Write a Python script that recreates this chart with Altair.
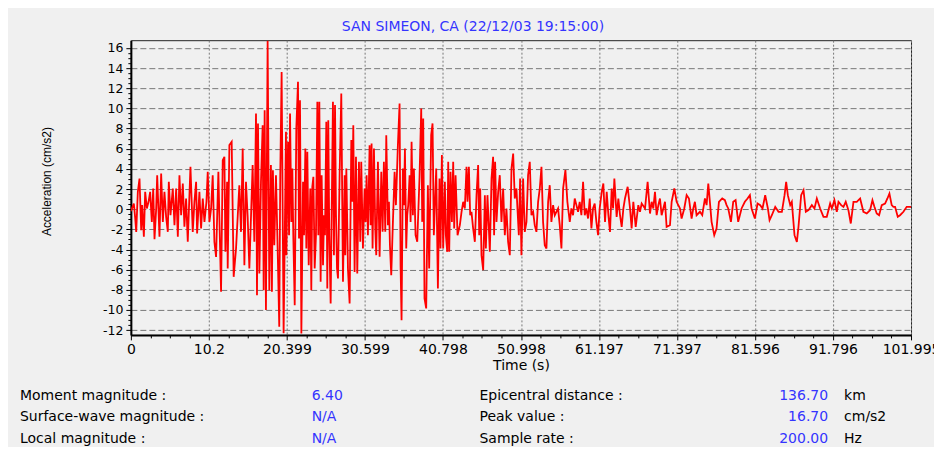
import altair as alt
import pandas as pd

# ---------------- data ----------------
seg1_t = [0.0, 0.39, 0.57, 0.70, 0.91, 1.13, 1.35, 1.48, 1.70, 1.87, 2.09, 2.31, 2.52, 2.74, 2.92, 3.09, 3.31, 3.44, 3.74, 3.96,
          4.18, 4.39, 4.61, 4.83, 4.96, 5.18, 5.48, 5.70, 5.92, 6.14, 6.35, 6.57, 6.79, 7.00, 7.22, 7.44, 7.79, 8.09, 8.31, 8.53,
          8.66, 8.96, 9.18, 9.40, 9.62, 9.88, 10.05, 10.27, 10.49, 10.70, 10.92, 11.14, 11.44, 11.79, 12.01, 12.23, 12.36, 12.58,
          12.66, 12.88, 13.18, 13.44, 13.75, 14.18, 14.40, 14.62, 14.84, 15.05, 15.27, 15.49, 15.92, 16.14, 16.36, 16.49, 16.62,
          16.80, 17.01, 17.23, 17.36, 17.49, 17.66, 17.88, 18.10, 18.31, 18.44, 18.57, 18.75, 18.97, 19.19, 19.40, 19.53, 19.71,
          19.97, 20.28]
seg1_a = [-0.2, 0.56, -0.93, -2.25, 1.72, 3.04, -2.08, 0.4, -2.74, 1.72, 0.07, 0.73, 1.72, -1.26, 2.05, -2.98, 0.07, 3.37, -2.74, 3.54,
          -1.26, 1.72, -0.76, -2.25, 2.71, -0.6, 2.05, -1.59, 2.05, -2.74, 3.37, -0.6, 2.55, -1.75, 1.06, -3.24, 4.2, -2.25, 0.73, 2.71,
          -2.41, 1.72, -1.92, 1.06, -1.26, 0.73, 3.7, -1.26, 0.07, 3.37, -3.24, -4.73, 3.7, -8.2, 4.86, 5.19, -4.23, 2.71,
          -5.89, 6.35, 6.68, -6.71, -3.9, 2.38, -2.25, 6.02, -5.56, 2.71, -0.76, -5.89, 4.37, -3.24, 9.49, -8.53, 8.5,
          -6.38, 2.71, 8.33, -8.04, 9.82, -10.0, 16.7, -8.04, 4.37, -8.2, 3.87, -3.57, 3.37, -3.9, -11.67, 3.37, 13.6,
          -12.3, 7.67]

seg2_t = [20.33, 20.55, 20.68, 20.81, 20.98, 21.11, 21.24, 21.42, 21.63, 21.85,
          21.98, 22.11, 22.29, 22.51, 22.64, 22.81, 22.94, 23.07, 23.25, 23.46,
          23.59, 23.72, 23.86, 24.03, 24.20, 24.38, 24.51, 24.64, 24.81, 24.94,
          25.12, 25.25, 25.38, 25.55, 25.68, 25.81, 25.94, 26.12, 26.42, 26.55,
          26.69, 26.82, 26.95, 27.08, 27.29, 27.51, 27.73, 27.95, 28.03, 28.17,
          28.38, 28.60, 28.82, 28.95, 29.08, 29.25, 29.43, 29.60, 29.82, 29.99,
          30.12, 30.34, 30.56, 30.69, 30.82, 30.99, 31.21, 31.34, 31.47, 31.60,
          31.78, 31.95, 32.08, 32.30, 32.52, 32.74, 32.91, 33.08, 33.26, 33.39,
          33.61, 33.74, 33.87, 34.04, 34.26, 34.48, 34.65, 34.91, 35.13, 35.26,
          35.39, 35.56, 35.70, 35.83, 36.00, 36.13, 36.26, 36.44, 36.57, 36.70,
          36.87, 37.00, 37.22, 37.44, 37.74, 37.96, 38.09, 38.22, 38.39, 38.61,
          38.83, 39.00, 39.26, 39.44, 39.61, 39.92, 40.14, 40.35, 40.48, 40.66,
          40.83]
seg2_a = [-4.56, 6.68, -2.58, 9.49, -1.26, 4.03, -2.74, -9.52, 8.0, 12.63,
          -2.91, 10.81, -12.33, 2.71, -2.58, 6.02, -3.9, 5.69, -5.56, 2.05,
          -8.04, 2.22, 3.21, -5.89, -2.58, 10.65, -2.58, 10.65, -7.21, 3.37,
          -5.56, -0.6, -2.58, 8.66, -7.87, 8.83, -2.58, -9.36, 10.65, -4.56,
          10.32, -0.6, -5.89, -6.88, 3.37, 11.47, -7.21, 3.37, -4.56, 4.03,
          -5.89, -9.36, 6.85, 0.73, 8.33, -6.22, 5.19, -6.38, 4.7, -3.24,
          4.7, -3.9, 2.05, -1.26, 3.37, -2.58, 6.35, -1.59, 6.51, -3.9,
          6.02, -1.92, -4.56, 4.7, -4.73, 3.7, -2.25, 4.7, -2.25, 7.34,
          -1.59, 0.73, -3.57, -6.55, -1.26, 3.7, 0.4, 6.35, 10.48, -5.56,
          -11.01, 4.03, 0.4, 6.02, -3.9, -0.6, 0.4, 3.37, -1.26, 6.68,
          -0.6, 4.03, -2.58, -3.24, 3.21, 9.99, -1.26, 8.99, -8.86, -9.85,
          2.38, -5.89, 7.34, 8.5, -2.58, 4.03, -7.87, 3.04, -3.9, 5.36,
          -3.9]

seg3_t = [41.05, 41.18, 41.36, 41.49, 41.62, 41.79, 41.97, 42.14, 42.27, 42.45,
          42.71, 43.01, 43.23, 43.45, 43.66, 43.88, 44.01, 44.19, 44.36, 44.53,
          44.75, 44.97, 45.19, 45.40, 45.54, 45.67, 45.84, 46.06, 46.28, 46.41,
          46.62, 46.93, 47.15, 47.36, 47.49, 47.62, 47.80, 48.02, 48.23, 48.45,
          48.67, 48.89, 49.10, 49.32, 49.54, 49.76, 49.98, 50.19, 50.41, 50.54,
          50.72, 50.89, 51.06, 51.28, 51.50, 51.72, 51.93, 52.15, 52.37, 52.59,
          52.80, 53.02, 53.24, 53.46, 53.68, 53.89, 54.11, 54.33, 54.55, 54.76,
          54.98, 55.20, 55.42, 55.63, 55.85, 56.07, 56.29, 56.51, 56.81, 57.07,
          57.38, 57.59, 57.81, 58.03, 58.25, 58.46, 58.68, 58.90, 59.12, 59.34,
          59.55, 59.77, 59.99, 60.21, 60.42, 60.64, 60.86, 61.08, 61.29]
seg3_a = [2.71, -2.58, -4.23, 4.7, -4.23, 3.7, -1.26, 4.7, -1.92, 3.37,
          -2.58, -1.59, -0.26, 0.73, 0.07, 4.2, 0.73, 4.2, -0.6, -0.26,
          -1.92, -3.24, 1.39, 4.37, -2.58, 2.05, -4.56, -6.05, 1.39, -3.9,
          1.39, -4.23, 3.04, 5.19, -2.58, 4.7, -1.26, 1.72, 3.37, -1.26,
          2.05, -2.58, 0.07, -3.24, -4.56, 4.03, 5.52, 1.06, 2.05, 0.07,
          -2.58, 3.04, -4.56, 3.04, -2.25, -1.26, 3.37, 4.7, -0.6, -0.26,
          -1.59, -2.25, 0.73, 2.05, 4.2, -1.26, -3.57, -3.9, 0.73, 2.38,
          -1.26, 0.4, -0.6, -0.26, 0.07, -1.59, -3.9, 2.05, 3.87, 0.73,
          -1.26, 0.07, -0.6, 1.06, 0.4, -0.26, 0.73, -0.6, 2.71, -0.6,
          0.07, -0.93, 1.06, -1.92, 0.07, 0.56, -1.26, -2.58, 0.07]

seg4_t = [61.56, 61.77, 61.99, 62.21, 62.43, 62.64, 62.86, 63.04, 63.21, 63.51,
          63.73, 63.95, 64.17, 64.39, 64.60, 64.95, 65.26, 65.47, 65.69, 66.00,
          66.34, 66.56, 66.78, 67.22, 67.56, 67.87, 68.09, 68.30, 68.52, 68.74,
          68.96, 69.17, 69.39, 69.61, 69.83, 70.04, 70.48, 70.70, 71.05, 71.35,
          71.57, 71.79, 72.00, 72.35, 72.66, 72.96, 73.31, 73.53, 73.74, 73.96,
          74.40, 74.70, 75.05, 75.27, 75.49, 75.70, 75.92, 76.27, 76.57, 76.88,
          77.31, 77.66, 77.88, 78.10, 78.45, 78.75, 79.06, 79.40, 79.84, 80.27,
          80.62, 80.93, 81.15, 81.58, 81.93]
seg4_a = [1.72, 2.55, -1.26, 1.72, -0.6, -2.25, 2.05, 0.07, 3.04, -0.76,
          1.06, -0.6, -1.75, 0.07, 1.06, 2.22, 0.07, -1.92, 0.73, -1.75,
          0.4, -0.26, 0.56, 0.07, 2.71, -0.43, 0.73, 0.07, 1.72, -0.6,
          0.4, 1.06, -0.6, 0.07, 0.73, -1.75, -1.59, 0.73, 2.05, 0.73,
          0.4, 0.07, -0.93, 0.07, 1.39, 1.06, -0.93, 0.07, 0.73, -0.6,
          -0.26, -0.6, 1.06, 0.4, 2.55, 0.73, -1.26, -2.58, -1.92, 0.73,
          1.06, 0.89, 0.4, 0.07, -1.26, 0.73, 0.89, -1.26, 0.07, 0.73,
          1.06, 1.39, 0.07, -0.93, 0.56]

seg5_t = [82.28, 82.58, 82.93, 83.28, 83.50, 83.80, 84.24, 84.67, 85.11, 85.46,
          85.67, 85.89, 86.20, 86.41, 86.76, 87.07, 87.28, 87.63, 87.94, 88.24,
          88.59, 89.03, 89.37, 89.68, 90.11, 90.55, 90.98, 91.42, 91.64, 91.98,
          92.29, 92.51, 92.86, 93.16, 93.46, 93.81, 94.12, 94.47, 94.90, 95.34,
          95.77, 96.21, 96.64, 96.95, 97.21, 97.51, 97.82, 98.17, 98.60, 98.91,
          99.17, 99.47, 99.69, 99.91, 100.26, 100.56, 101.00, 101.43, 101.87, 101.995]
seg5_a = [0.4, 0.07, 1.39, 0.07, -1.09, -0.6, 0.23, -0.26, -0.26, 1.39,
          2.71, 1.39, 0.4, 0.73, -2.58, -3.24, -1.75, 1.39, 1.88, -0.26,
          -0.1, 0.4, 0.07, 1.06, 0.07, -0.76, -0.76, 0.56, 0.07, 0.89,
          -0.26, 0.73, 0.4, 0.23, 0.73, -0.1, -1.42, 0.73, 0.73, 1.06,
          -0.26, -0.43, -0.1, 0.89, 0.23, -0.43, -0.6, 0.4, 0.56, 1.06,
          1.55, 0.4, 0.23, 0.23, -0.76, -0.6, -0.26, 0.23, 0.23, 0.2]

x_major = [0, 10.2, 20.399, 30.599, 40.798, 50.998, 61.197, 71.397, 81.596, 91.796, 101.995]
y_major = [-12, -10, -8, -6, -4, -2, 0, 2, 4, 6, 8, 10, 12, 14, 16]
x_domain = [0, 101.995]
y_domain = [-12.47, 16.76]

title_text = "SAN SIMEON, CA (22/12/03 19:15:00)"
x_title = "Time (s)"
y_title = "Acceleration (cm/s2)"

stat_row = [0, 1, 2]
stat_label_left = ["Moment magnitude :", "Surface-wave magnitude :", "Local magnitude :"]
stat_value_left = ["6.40", "N/A", "N/A"]
stat_label_right = ["Epicentral distance :", "Peak value :", "Sample rate :"]
stat_value_right = ["136.70", "16.70", "200.00"]
stat_unit = ["km", "cm/s2", "Hz"]

# ---------------- build ----------------
signal = pd.DataFrame({
    "t": seg1_t + seg2_t + seg3_t + seg4_t + seg5_t,
    "a": seg1_a + seg2_a + seg3_a + seg4_a + seg5_a,
})
stats = pd.DataFrame({
    "row": stat_row,
    "ll": stat_label_left, "vl": stat_value_left,
    "lr": stat_label_right, "vr": stat_value_right, "u": stat_unit,
})

W, H = 781, 295
FONT = "DejaVu Sans"
BLUE = "#3434ff"
BG = "#f0f0f0"

x_minor = [a + (b - a) * k / 4 for a, b in zip(x_major[:-1], x_major[1:]) for k in (1, 2, 3)]
y_minor = [v / 2 for v in range(-24, 33) if v % 4 != 0]
x_is_major = "indexof([%s], datum.value) >= 0" % ",".join(str(v) for v in x_major)
y_is_major = "datum.value % 2 == 0"

x_axis = alt.Axis(
    values=sorted(x_major + x_minor), format=".3~f",
    labelExpr=f"{x_is_major} ? datum.label : ''",
    labelOverlap=False, labelFlush=False,
    tickSize={"condition": {"test": x_is_major, "value": 5}, "value": 3},
    gridOpacity={"condition": {"test": x_is_major, "value": 1}, "value": 0},
    grid=True, gridDash=[2, 2], gridColor="#777777", gridWidth=1,
    domainColor="#000000", domainWidth=2, tickColor="#000000", tickWidth=1,
    labelFont=FONT, labelFontSize=14, labelColor="#000000", labelPadding=3,
    title=x_title, titleFont=FONT, titleFontSize=14, titleFontWeight="normal",
    titleColor="#000000", titlePadding=2,
)
y_axis = alt.Axis(
    values=sorted(y_major + y_minor),
    labelExpr=f"{y_is_major} ? '' + datum.value : ''",
    labelOverlap=False, labelFlush=False,
    tickSize={"condition": {"test": y_is_major, "value": 5}, "value": 3},
    gridOpacity={"condition": {"test": y_is_major, "value": 1}, "value": 0},
    grid=True, gridDash=[6, 3], gridColor="#777777", gridWidth=1,
    domainColor="#000000", domainWidth=2, tickColor="#000000", tickWidth=1,
    labelFont=FONT, labelFontSize=12.5, labelColor="#000000", labelPadding=3,
    title=y_title, titleFont="Liberation Sans", titleFontSize=12, titleFontWeight="normal",
    titleColor="#000000", titleX=-84, titleY=141, titleBaseline="middle", titleAlign="center",
    titleAngle=270,
)

line = alt.Chart(signal).mark_line(color="#ff0000", strokeWidth=1.8, clip=True).encode(
    x=alt.X("t:Q", scale=alt.Scale(domain=x_domain, nice=False, zero=False), axis=x_axis),
    y=alt.Y("a:Q", scale=alt.Scale(domain=y_domain, nice=False, zero=False), axis=y_axis),
)

row_y = alt.Y("row:O", axis=None, scale=alt.Scale(range=[356, 399], padding=0))

def stat_col(field, x, color, align="left"):
    return alt.Chart(stats).mark_text(
        align=align, baseline="middle", font=FONT, fontSize=14, color=color
    ).encode(x=alt.value(x), y=row_y, text=f"{field}:N")

layers = [
    line,
    stat_col("ll", -111, "#000000"),
    stat_col("vl", 181, BLUE),
    stat_col("lr", 349, "#000000"),
    stat_col("vr", 698, BLUE, "right"),
    stat_col("u", 714, "#000000"),
]

chart = alt.layer(*layers).resolve_scale(y="independent").properties(
    width=W, height=H,
    title=alt.TitleParams(title_text, anchor="middle", frame="group", dx=-48, offset=6,
                          font=FONT, fontSize=14, fontWeight="normal", color=BLUE),
    autosize=alt.AutoSizeParams(type="none"),
    padding={"left": 123, "top": 32, "right": 23, "bottom": 112},
).configure(background=BG).configure_view(fill=BG, stroke="#222222", strokeWidth=1)

chart.save("out.html", embed_options={"renderer": "svg", "actions": False})
